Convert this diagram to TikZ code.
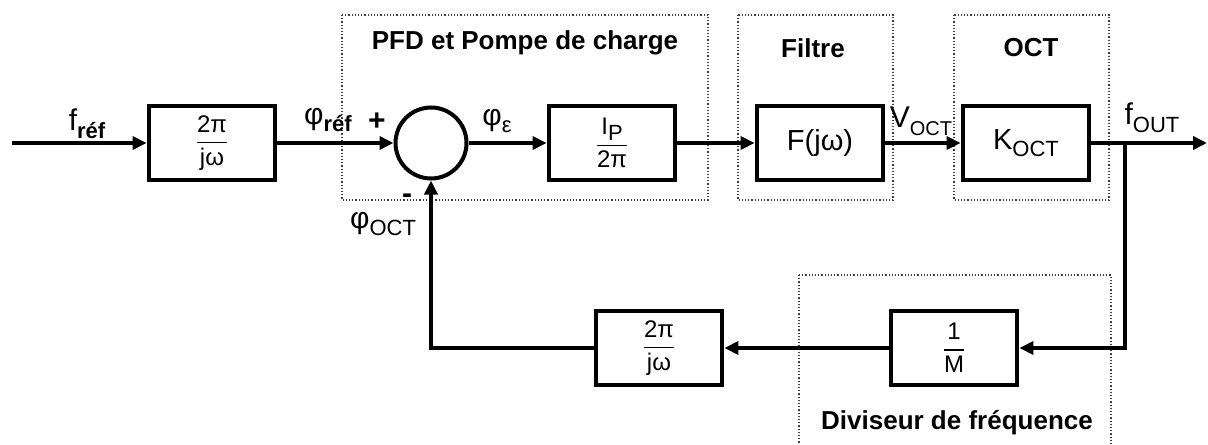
\documentclass[tikz,border=0pt]{standalone}
\usepackage{amsmath}
\usepackage{fontspec}
\setmainfont{Liberation Sans}
\usetikzlibrary{arrows.meta}
\tikzstyle{block} = [draw, line width=2.4pt, minimum width=63pt, minimum height=37pt, inner sep=0pt, font=\fontsize{12}{12}\selectfont]
\tikzstyle{sumnode} = [draw, circle, line width=2pt, minimum size=35.5pt, inner sep=0pt]
\tikzstyle{groupbox} = [densely dotted, line width=0.6pt, black!75]
\tikzstyle{arrow} = [line width=2.4pt, -{Triangle[length=7pt,width=6.5pt]}]
\tikzstyle{lbl} = [font=\fontsize{15}{15}\selectfont, inner sep=0pt]
\tikzstyle{title} = [font=\fontsize{13}{13}\selectfont\bfseries, inner sep=0pt]
\newcommand{\sub}[1]{\raisebox{-0.5ex}{\fontsize{11}{11}\selectfont #1}}
\newcommand{\frc}[2]{$\displaystyle\genfrac{}{}{0.7pt}{}{\mbox{#1}}{\mbox{#2}}$}

\begin{document}
\begin{tikzpicture}[x=0.5pt, y=-0.5pt]
    \useasboundingbox (0,0) rectangle (1208,444);
    % dotted groups
    \draw[groupbox] (342,15) rectangle (708,200);
    \draw[groupbox] (738,15) rectangle (893,200);
    \draw[groupbox] (954,15) rectangle (1109,200);
    \draw[groupbox] (799,275) rectangle (1111,450);
    \foreach \n/\x/\y/\t in {
        tpfd/525/43/{PFD et Pompe de charge},
        tfil/813/48/{Filtre},
        toct/1031/48/{OCT},
        tdiv/957/423/{Diviseur de fréquence}
      }{
        \node[title] (\n) at (\x,\y) {\t};
      }

    % forward path
    \coordinate (in) at (12,143);
    \node[block] (integ) at (212,143) {\frc{2π}{jω}};
    \node[sumnode] (sum) at (431,143) {};
    \node[block] (pump) at (612,143) {\frc{I\sub{P}}{2π}};
    \node[block, font=\fontsize{14.5}{14.5}\selectfont] (filt) at (820,143) {F(jω)};
    \node[block, font=\fontsize{14.5}{14.5}\selectfont] (oct) at (1026,143) {K\sub{OCT}};
    \coordinate (out) at (1207,143);
    \coordinate (branch) at (1125,143);

    % feedback path
    \node[block] (div) at (954,348) {\frc{1}{M}};
    \node[block] (integb) at (659,348) {\frc{2π}{jω}};
    \coordinate (corner) at (1125,348);
    \coordinate (cornerb) at (431,348);

    \draw[arrow] (in) -- (integ);
    \draw[arrow] (integ) -- (sum);
    \draw[arrow] (sum) -- (pump);
    \draw[arrow] (pump) -- (filt);
    \draw[arrow] (filt) -- (oct);
    \draw[arrow] (oct) -- (out);
    \draw[arrow] (branch) -- (corner) -- (div);
    \draw[arrow] (div) -- (integb);
    \draw[arrow] (integb) -- (cornerb) -- (sum);

    % signal labels
    \node[lbl] (fref) at (87,124) {f\sub{\bfseries réf}};
    \node[lbl] (phiref) at (328,120) {φ\sub{\bfseries réf}};
    \node[lbl] (plus) at (377,122) {\textbf{+}};
    \node[lbl] (phieps) at (497,121) {φ\sub{ε}};
    \node[lbl] (minus) at (407,199) {\textbf{-}};
    \node[lbl] (phioct) at (383,224) {φ\sub{OCT}};
    \node[lbl] (voct) at (921,121) {V\sub{\fontsize{10}{10}\selectfont OCT}};
    \node[lbl] (fout) at (1152,118) {f\sub{OUT}};
\end{tikzpicture}
\end{document}
